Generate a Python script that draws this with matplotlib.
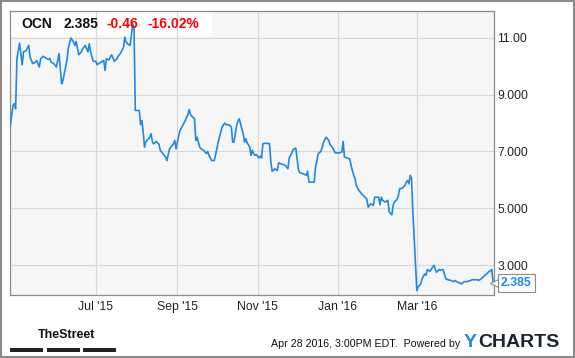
import matplotlib
matplotlib.use("Agg")
import matplotlib.pyplot as plt
import matplotlib.dates as mdates
from matplotlib.patches import Rectangle
import pandas as pd

plt.rcParams['font.family'] = ['Liberation Sans', 'DejaVu Sans']

# OCN price (date, close)
dates = [
    "2015-04-27", "2015-04-29", "2015-04-30", "2015-05-01", "2015-05-02", "2015-05-03", "2015-05-04",
    "2015-05-05", "2015-05-06", "2015-05-07", "2015-05-09", "2015-05-11", "2015-05-12", "2015-05-14",
    "2015-05-16", "2015-05-17", "2015-05-19", "2015-05-20", "2015-05-22", "2015-05-24", "2015-05-26",
    "2015-05-27", "2015-05-28", "2015-05-30", "2015-06-01", "2015-06-03", "2015-06-05", "2015-06-06",
    "2015-06-07", "2015-06-09", "2015-06-10", "2015-06-12", "2015-06-14", "2015-06-15", "2015-06-16",
    "2015-06-18", "2015-06-20", "2015-06-21", "2015-06-23", "2015-06-25", "2015-06-26", "2015-06-27",
    "2015-06-29", "2015-07-01", "2015-07-02", "2015-07-03", "2015-07-05", "2015-07-07", "2015-07-08",
    "2015-07-09", "2015-07-11", "2015-07-12", "2015-07-13", "2015-07-15", "2015-07-17", "2015-07-18",
    "2015-07-20", "2015-07-22", "2015-07-23", "2015-07-24", "2015-07-26", "2015-07-27", "2015-07-28",
    "2015-07-29", "2015-07-30", "2015-07-31", "2015-08-03", "2015-08-04", "2015-08-05", "2015-08-06",
    "2015-08-07", "2015-08-08", "2015-08-09", "2015-08-11", "2015-08-12", "2015-08-13", "2015-08-14",
    "2015-08-16", "2015-08-18", "2015-08-19", "2015-08-21", "2015-08-23", "2015-08-24", "2015-08-26",
    "2015-08-27", "2015-08-29", "2015-08-30", "2015-08-31", "2015-09-02", "2015-09-03", "2015-09-05",
    "2015-09-07", "2015-09-08", "2015-09-09", "2015-09-10", "2015-09-11", "2015-09-12", "2015-09-14",
    "2015-09-15", "2015-09-16", "2015-09-18", "2015-09-19", "2015-09-21", "2015-09-23", "2015-09-24",
    "2015-09-25", "2015-09-27", "2015-09-29", "2015-10-01", "2015-10-02", "2015-10-04", "2015-10-05",
    "2015-10-07", "2015-10-08", "2015-10-10", "2015-10-12", "2015-10-13", "2015-10-14", "2015-10-16",
    "2015-10-17", "2015-10-18", "2015-10-19", "2015-10-21", "2015-10-22", "2015-10-23", "2015-10-24",
    "2015-10-26", "2015-10-27", "2015-10-28", "2015-10-29", "2015-10-30", "2015-10-31", "2015-11-02",
    "2015-11-03", "2015-11-04", "2015-11-05", "2015-11-07", "2015-11-10", "2015-11-11", "2015-11-12",
    "2015-11-14", "2015-11-16", "2015-11-17", "2015-11-19", "2015-11-21", "2015-11-22", "2015-11-24",
    "2015-11-25", "2015-11-27", "2015-11-28", "2015-11-30", "2015-12-02", "2015-12-03", "2015-12-06",
    "2015-12-08", "2015-12-09", "2015-12-10", "2015-12-12", "2015-12-14", "2015-12-15", "2015-12-16",
    "2015-12-17", "2015-12-19", "2015-12-20", "2015-12-21", "2015-12-23", "2015-12-25", "2015-12-26",
    "2015-12-28", "2015-12-30", "2015-12-31", "2016-01-02", "2016-01-04", "2016-01-05", "2016-01-06",
    "2016-01-08", "2016-01-10", "2016-01-11", "2016-01-13", "2016-01-14", "2016-01-15", "2016-01-17",
    "2016-01-19", "2016-01-21", "2016-01-23", "2016-01-24", "2016-01-26", "2016-01-28", "2016-01-29",
    "2016-01-30", "2016-02-01", "2016-02-02", "2016-02-03", "2016-02-04", "2016-02-06", "2016-02-08",
    "2016-02-09", "2016-02-11", "2016-02-12", "2016-02-13", "2016-02-15", "2016-02-16", "2016-02-17",
    "2016-02-19", "2016-02-21", "2016-02-22", "2016-02-23", "2016-02-24", "2016-02-25", "2016-02-26",
    "2016-02-27", "2016-02-29", "2016-03-01", "2016-03-02", "2016-03-04", "2016-03-05", "2016-03-07",
    "2016-03-08", "2016-03-09", "2016-03-11", "2016-03-13", "2016-03-14", "2016-03-16", "2016-03-18",
    "2016-03-19", "2016-03-21", "2016-03-23", "2016-03-25", "2016-03-27", "2016-03-29", "2016-03-30",
    "2016-04-01", "2016-04-03", "2016-04-04", "2016-04-06", "2016-04-08", "2016-04-11", "2016-04-12",
    "2016-04-14", "2016-04-16", "2016-04-17", "2016-04-19", "2016-04-21", "2016-04-23", "2016-04-25",
    "2016-04-26", "2016-04-27", "2016-04-28",
]
prices = [
    7.91, 8.62, 8.68, 8.50, 10.26, 10.55, 10.81,
    10.44, 10.05, 10.50, 10.55, 10.73, 10.32, 10.09,
    10.14, 10.20, 9.97, 10.26, 10.35, 10.28, 10.24,
    10.28, 10.14, 10.09, 9.97, 10.44, 9.38, 9.50,
    9.73, 10.20, 10.61, 10.99, 10.85, 10.73, 10.87,
    10.40, 10.50, 10.61, 10.73, 10.50, 10.79, 10.50,
    10.17, 10.17, 10.05, 10.09, 10.14, 10.20, 9.85,
    10.26, 10.22, 10.32, 10.40, 10.17, 10.26, 10.35,
    10.47, 10.67, 11.02, 10.85, 10.75, 10.73, 11.08,
    11.49, 11.38, 8.44, 8.44, 7.94, 8.09, 7.68,
    7.15, 7.33, 7.39, 7.50, 7.62, 7.33, 7.27,
    7.35, 7.25, 7.04, 6.92, 6.80, 6.68, 7.09,
    7.15, 7.27, 7.39, 7.09, 7.56, 7.74, 7.91,
    8.09, 8.21, 8.29, 8.48, 8.29, 8.24, 8.15,
    7.39, 7.50, 7.15, 7.09, 7.04, 6.92, 7.00,
    6.86, 6.68, 6.68, 7.09, 7.33, 7.68, 7.86,
    8.00, 7.94, 7.94, 7.86, 7.33, 7.33, 7.91,
    8.06, 8.15, 7.97, 7.62, 7.33, 7.45, 7.31,
    7.15, 6.86, 7.04, 6.92, 6.86, 6.89, 6.77,
    6.84, 6.77, 7.27, 7.29, 7.27, 6.65, 6.30,
    6.39, 6.33, 6.60, 6.56, 6.53, 6.51, 6.39,
    6.77, 6.95, 7.07, 7.12, 6.37, 6.25, 6.21,
    6.16, 6.30, 5.92, 5.92, 5.92, 6.45, 6.65,
    6.92, 7.00, 7.12, 7.31, 7.50, 7.39, 7.25,
    7.13, 6.95, 6.95, 6.95, 6.98, 7.35, 6.80,
    6.77, 6.74, 6.51, 6.16, 6.06, 5.80, 5.63,
    5.51, 5.42, 5.33, 5.04, 5.16, 5.10, 5.39,
    5.39, 5.39, 5.12, 5.39, 5.28, 5.22, 5.28,
    4.87, 4.77, 5.10, 5.22, 5.31, 5.45, 5.69,
    5.71, 5.80, 5.92, 5.98, 5.86, 6.16, 6.04,
    4.87, 2.99, 2.11, 2.23, 2.34, 2.52, 2.69,
    2.64, 2.85, 2.78, 2.93, 2.99, 2.75, 2.85,
    2.82, 2.85, 2.52, 2.48, 2.46, 2.42, 2.46,
    2.40, 2.37, 2.34, 2.42, 2.42, 2.46, 2.49,
    2.48, 2.49, 2.46, 2.52, 2.61, 2.69, 2.78,
    2.80, 2.85, 2.385,
]

ticker = "OCN"
change = "-0.46"
change_pct = "-16.02%"
x_ticks = ["2015-07-01", "2015-09-01", "2015-11-01", "2016-01-01", "2016-03-01"]
y_ticks = [3, 5, 7, 9, 11]
y_tick_labels = ["3.000", "5.000", "7.000", "9.000", "11.00"]
x_range = ["2015-04-27", "2016-04-28 15:00"]
stamp = "Apr 28 2016, 3:00PM EDT.  Powered by"

blue = "#1e8ae6"
red = "#ff0000"

fig = plt.figure(figsize=(5.75, 3.58), dpi=100)
ax = fig.add_axes([0.018, 0.176, 0.841, 0.794])   # plot box
ax.set_facecolor("#f6f6f6")

x = pd.to_datetime(dates)
ax.plot(x, prices, color=blue, lw=1.2, zorder=3)

ax.set_xlim(pd.to_datetime(x_range[0]), pd.to_datetime(x_range[1]))
ax.set_ylim(1.95, 11.95)

ax.set_xticks(pd.to_datetime(x_ticks))
ax.xaxis.set_major_formatter(mdates.DateFormatter("%b '%y"))
ax.set_yticks(y_ticks)
ax.set_yticklabels(y_tick_labels)
ax.yaxis.tick_right()
ax.tick_params(axis="both", length=0, labelsize=8.8, colors="#222222")
ax.tick_params(axis="y", pad=2.5)
ax.tick_params(axis="x", pad=4)
ax.grid(True, color="#d9d9d9", lw=0.9, zorder=0)
for s in ax.spines.values():
    s.set_color("#8c8c8c")
    s.set_linewidth(0.9)

# header box with quote
ax.add_patch(Rectangle((0, 0.912), 0.417, 0.088, transform=ax.transAxes,
                       facecolor="white", edgecolor="none", zorder=1))
fig.text(0.038, 0.921, ticker, fontsize=10, fontweight="bold", color="#111111")
fig.text(0.110, 0.921, f"{prices[-1]:.3f}", fontsize=10, fontweight="bold", color="#111111")
fig.text(0.186, 0.921, change, fontsize=10, fontweight="bold", color=red, zorder=2)
fig.text(0.257, 0.921, change_pct, fontsize=10, fontweight="bold", color=red)

# last price tag
ax.plot([1.0], [prices[-1]], marker="<", ms=6, mfc="white", mec="#8c8c8c", mew=0.8,
        transform=ax.get_yaxis_transform(), clip_on=False, zorder=5)
ax.annotate(f"{prices[-1]:.3f}", xy=(1.0, prices[-1]), xycoords=ax.get_yaxis_transform(),
            xytext=(5, 0), textcoords="offset points", va="center", ha="left",
            fontsize=8.8, fontweight="bold", color=blue, annotation_clip=False, zorder=6,
            bbox=dict(boxstyle="square,pad=0.25", fc="white", ec="#8c8c8c", lw=0.8))

# footer
fig.text(0.065, 0.055, "TheStreet", fontsize=9, fontweight="bold", color="#111111")
for x0 in [0.018, 0.082, 0.145]:
    fig.add_artist(Rectangle((x0, 0.018), 0.057, 0.009, transform=fig.transFigure,
                             facecolor="#222222", edgecolor="none"))
fig.text(0.471, 0.030, stamp, fontsize=7.7, color="#111111")
fig.text(0.806, 0.030, "Y", fontsize=14, fontweight="bold", color=blue)
fig.text(0.832, 0.030, "CHARTS", fontsize=14, fontweight="bold", color="#1c2331")

# outer frame
fig.add_artist(Rectangle((0.001, 0.002), 0.998, 0.996, transform=fig.transFigure,
                         facecolor="none", edgecolor="#8a8a8a", lw=1.5))

fig.savefig("out.png", dpi=100)
